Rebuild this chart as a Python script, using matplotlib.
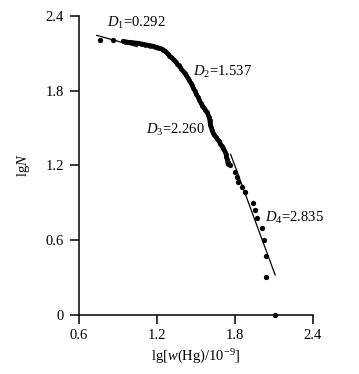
import matplotlib
matplotlib.use("Agg")
import matplotlib.pyplot as plt
import numpy as np

plt.rcParams['font.family'] = ['Liberation Serif', 'DejaVu Serif']
plt.rcParams['mathtext.fontset'] = 'custom'
plt.rcParams['mathtext.rm'] = 'Liberation Serif'
plt.rcParams['mathtext.it'] = 'Liberation Serif:italic'

# dense data band (lg w(Hg), lg N)
dense_x = [0.942, 0.960, 0.980, 1.000, 1.018, 1.038, 1.057, 1.076, 1.095, 1.114, 1.133, 1.152,
           1.172, 1.191, 1.210, 1.226, 1.241, 1.252, 1.264, 1.276, 1.287, 1.298, 1.310, 1.322,
           1.333, 1.345, 1.356, 1.368, 1.379, 1.390, 1.402, 1.414, 1.425, 1.437, 1.448, 1.460,
           1.471, 1.482, 1.494, 1.505, 1.517, 1.528, 1.540, 1.552, 1.563, 1.575, 1.586, 1.594,
           1.602, 1.606, 1.609, 1.613, 1.617, 1.624, 1.632, 1.644, 1.655, 1.666, 1.678, 1.690,
           1.701, 1.709, 1.717, 1.725, 1.732, 1.736, 1.740, 1.744, 1.747]
dense_y = [2.199, 2.195, 2.191, 2.189, 2.187, 2.185, 2.183, 2.179, 2.175, 2.171, 2.167, 2.163,
           2.159, 2.153, 2.147, 2.141, 2.135, 2.127, 2.119, 2.107, 2.095, 2.083, 2.071, 2.059,
           2.047, 2.033, 2.018, 2.004, 1.990, 1.974, 1.958, 1.942, 1.926, 1.906, 1.886, 1.866,
           1.846, 1.822, 1.798, 1.774, 1.750, 1.726, 1.701, 1.681, 1.661, 1.645, 1.629, 1.609,
           1.589, 1.569, 1.549, 1.529, 1.509, 1.485, 1.461, 1.445, 1.429, 1.412, 1.396, 1.376,
           1.356, 1.340, 1.324, 1.308, 1.292, 1.272, 1.252, 1.232, 1.212]

# sparse points
sparse_x = [0.765, 0.867, 1.762, 1.801, 1.814, 1.827, 1.852, 1.878, 1.937, 1.958, 1.974,
            2.006, 2.024, 2.039, 2.039, 2.105]
sparse_y = [2.207, 2.207, 1.204, 1.150, 1.110, 1.070, 1.030, 0.990, 0.901, 0.843, 0.776,
            0.701, 0.602, 0.476, 0.304, 0.0]

# fitted segments (fractal dimensions D -> slope -D)
fit_D = [0.292, 2.835]
fit_x0 = [0.74, 1.768]
fit_x1 = [1.05, 2.110]
fit_y0 = [2.245, 1.290]

labels = [r'$\it{D}_1$=0.292', r'$\it{D}_2$=1.537', r'$\it{D}_3$=2.260', r'$\it{D}_4$=2.835']
label_x = [0.819, 1.479, 1.118, 2.031]
label_y = [2.343, 1.950, 1.485, 0.778]

xticks = [0.6, 1.2, 1.8, 2.4]
yticks = [0, 0.6, 1.2, 1.8, 2.4]
xtick_labels = ['0.6', '1.2', '1.8', '2.4']
ytick_labels = ['0', '0.6', '1.2', '1.8', '2.4']

fig = plt.figure(figsize=(3.59, 3.74), dpi=100)
ax = fig.add_axes([0.2187, 0.158, 0.653, 0.799])

ax.plot(dense_x, dense_y, '-', color='black', lw=3.2, solid_capstyle='round')
ax.plot(dense_x, dense_y, 'o', color='black', ms=3.4, mew=0)
ax.plot(sparse_x, sparse_y, 'o', color='black', ms=3.8, mew=0, clip_on=False, zorder=5)

for D, x0, x1, y0 in zip(fit_D, fit_x0, fit_x1, fit_y0):
    xs = np.array([x0, x1])
    ax.plot(xs, y0 - D * (xs - x0), color='black', lw=0.9)

for t, x, y in zip(labels, label_x, label_y):
    ax.text(x, y, t, fontsize=10.5, ha='left', va='center')

ax.set_xlim(0.6, 2.4)
ax.set_ylim(0, 2.4)
ax.set_xticks(xticks)
ax.set_xticklabels(xtick_labels)
ax.set_yticks(yticks)
ax.set_yticklabels(ytick_labels)
for s in ['top', 'right']:
    ax.spines[s].set_visible(False)
for s in ['left', 'bottom']:
    ax.spines[s].set_linewidth(1.1)
ax.tick_params(direction='out', length=6.5, width=1.1, labelsize=10.5, pad=4)

ax.set_xlabel(r'lg[$\it{w}$(Hg)/10$^{-9}$]', fontsize=10.5, labelpad=4)
ax.set_ylabel(r'lg$\it{N}$', fontsize=10.5, labelpad=10)

fig.savefig('out.png', dpi=100)
